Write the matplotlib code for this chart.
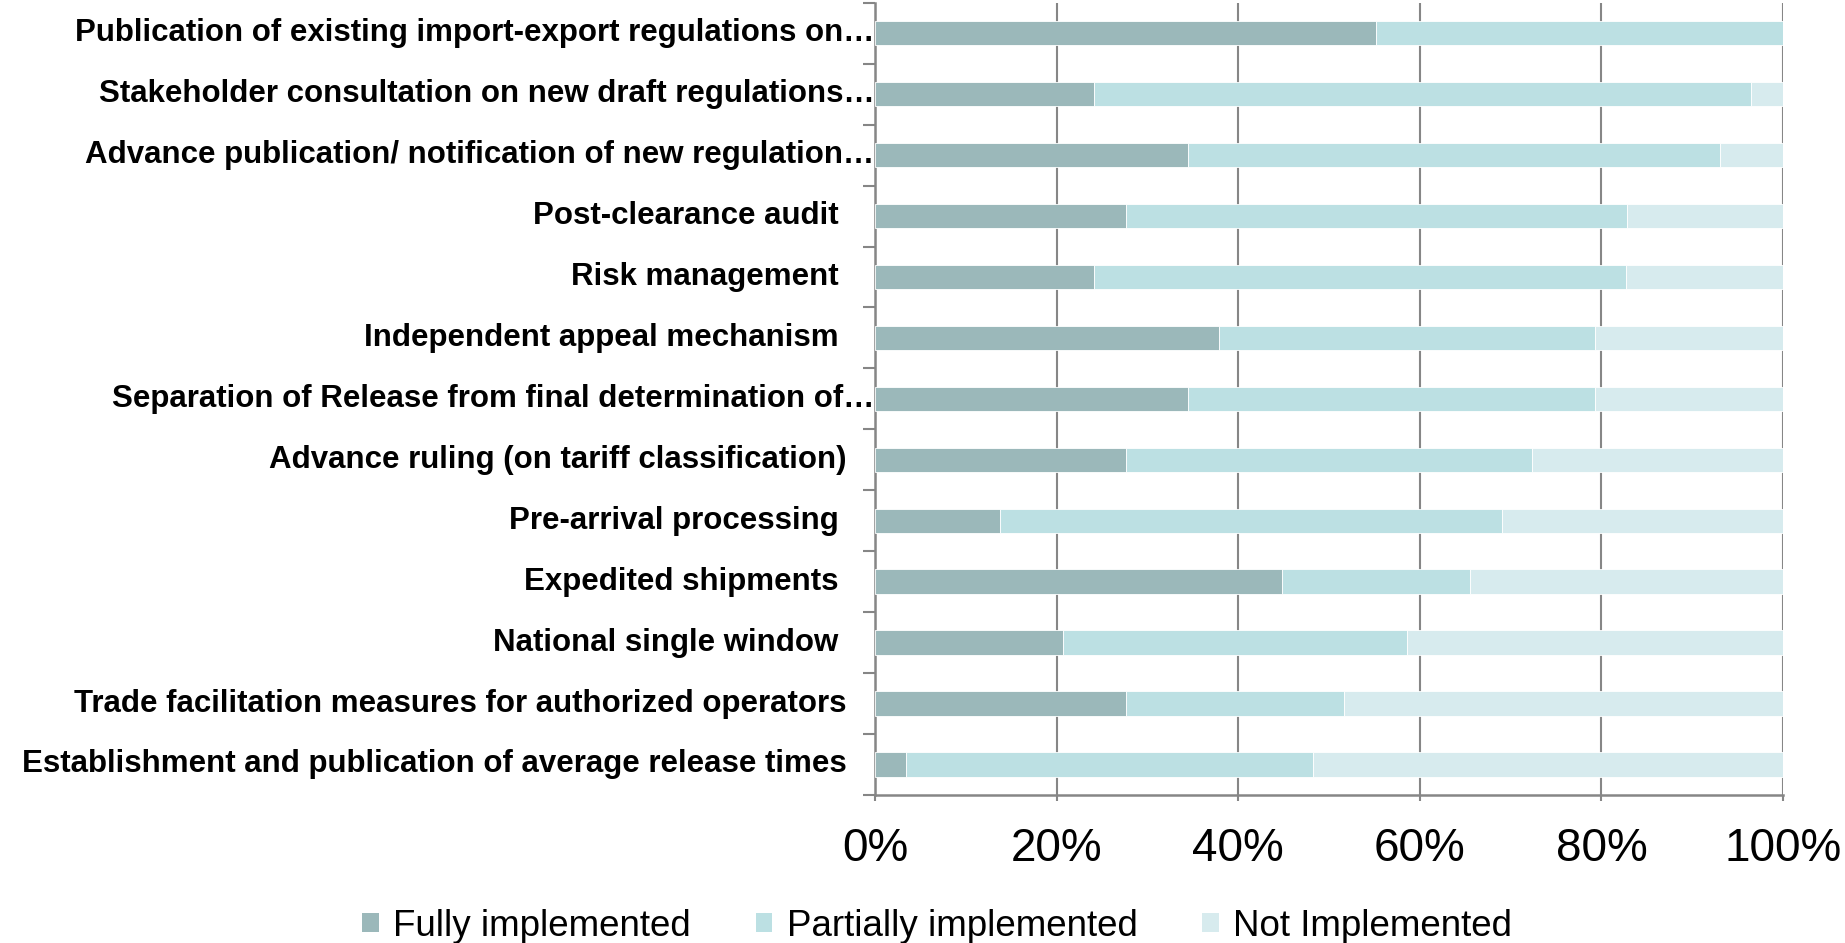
import numpy as np
import matplotlib
matplotlib.use("Agg")
import matplotlib.pyplot as plt
from matplotlib.patches import Patch

plt.rcParams['font.family'] = ['Liberation Sans', 'DejaVu Sans']

# measures, top to bottom
measures = [
    "Publication of existing import-export regulations on\u2026",
    "Stakeholder consultation on new draft regulations\u2026",
    "Advance publication/ notification of new regulation\u2026",
    "Post-clearance audit ",
    "Risk management ",
    "Independent appeal mechanism ",
    "Separation of Release from final determination of\u2026",
    "Advance ruling (on tariff classification)",
    "Pre-arrival processing ",
    "Expedited shipments ",
    "National single window ",
    "Trade facilitation measures for authorized operators",
    "Establishment and publication of average release times",
]
truncated = [True, True, True, False, False, False, True,
             False, False, False, False, False, False]

# shares in percent
fully = [55.2, 24.1, 34.5, 27.6, 24.1, 37.9, 34.5, 27.6, 13.8, 44.8, 20.7, 27.6, 3.4]
partially = [44.8, 72.4, 58.6, 55.2, 58.6, 41.4, 44.8, 44.8, 55.2, 20.7, 37.9, 24.1, 44.8]
not_impl = [0.0, 3.5, 6.9, 17.2, 17.3, 20.7, 20.7, 27.6, 31.0, 34.5, 41.4, 48.3, 51.8]

series = ["Fully implemented", "Partially implemented", "Not Implemented"]
colors = ["#9BB8BA", "#BCE0E3", "#D7EBEE"]

fig = plt.figure(figsize=(18.45, 9.43), dpi=100)
ax = fig.add_axes([0.4743, 0.157, 0.4921, 0.840])

y = np.arange(len(measures))
left = np.zeros(len(measures))
for vals, col in zip([fully, partially, not_impl], colors):
    vals = np.array(vals)
    ax.barh(y, vals, left=left, height=0.4, color=col,
            edgecolor='white', linewidth=0.6, zorder=3)
    left += vals

ax.set_xlim(0, 100)
ax.set_ylim(len(measures) - 0.5, -0.5)

ax.set_xticks(np.arange(0, 101, 20))
ax.set_xticklabels([f"{v}%" for v in range(0, 101, 20)], fontsize=33)
ax.tick_params(axis='x', length=4, width=1.5, color='#868686', pad=19)
ax.grid(axis='x', color='#868686', linewidth=1.5, zorder=0)

ax.set_yticks([])
ax.set_yticks(np.arange(-0.5, len(measures), 1), minor=True)
ax.tick_params(axis='y', which='minor', length=9, width=1.5, color='#868686')

for s in ['top', 'right']:
    ax.spines[s].set_visible(False)
for s in ['left', 'bottom']:
    ax.spines[s].set_color('#868686')
    ax.spines[s].set_linewidth(1.8)

tr = ax.get_yaxis_transform()
for yi, lab, tr_ in zip(y, measures, truncated):
    xpos = -0.001 if tr_ else -0.031
    ax.text(xpos, yi, lab, transform=tr, ha='right', va='center',
            fontsize=22.5, fontweight='bold', color='black')

handles = [Patch(facecolor=c, edgecolor='none') for c in colors]
fig.legend(handles, series, loc='center', bbox_to_anchor=(0.508, 0.018),
           ncol=3, frameon=False, fontsize=26.5, handlelength=0.45,
           handleheight=0.4, handletextpad=0.4, columnspacing=1.75)

fig.savefig("out.png", dpi=100)
